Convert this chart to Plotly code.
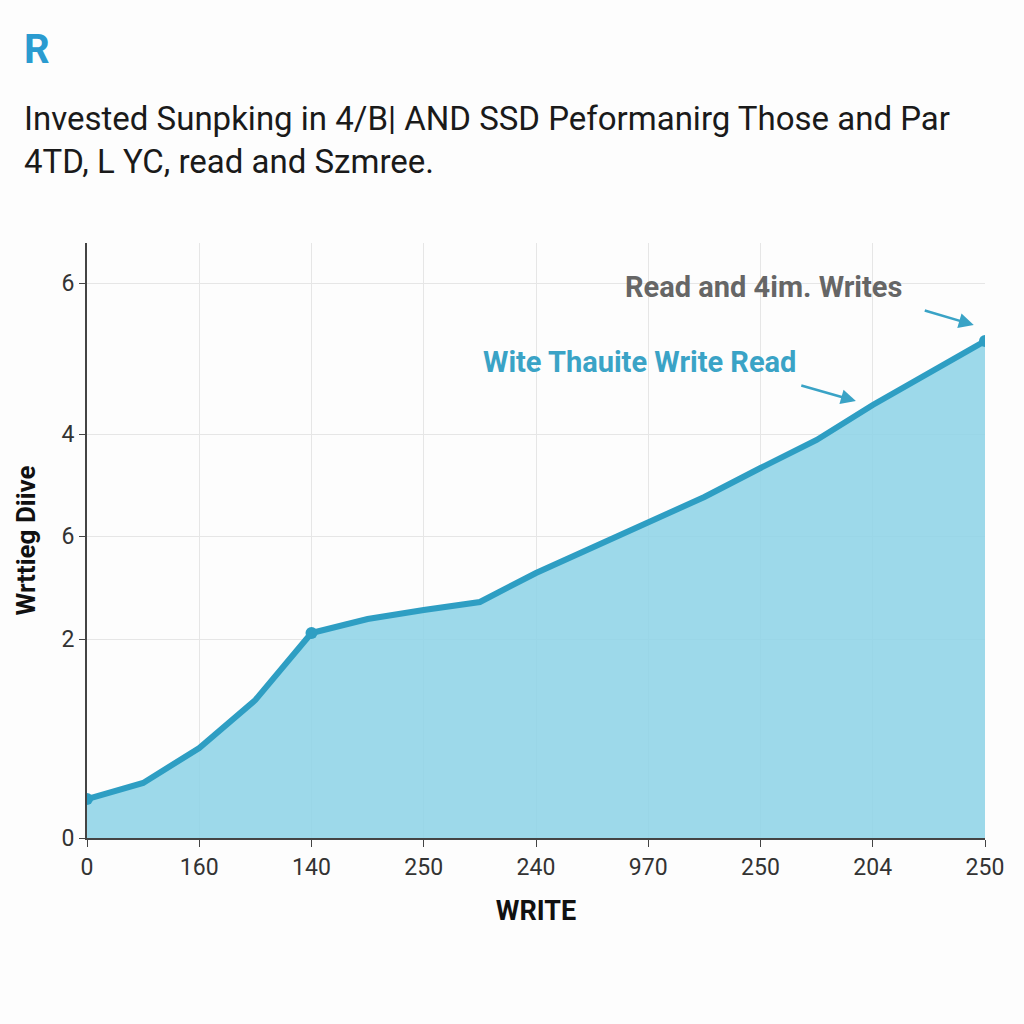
import plotly.graph_objects as go

# Data
x_vals = [0, 0.5, 1, 1.5, 2, 2.5, 3, 3.5, 4, 4.5, 5, 5.5, 6, 6.5, 7, 7.5, 8]
y_vals = [0.39, 0.55, 0.90, 1.38, 2.05, 2.19, 2.28, 2.36, 2.65, 2.90, 3.16, 3.41, 3.70, 3.98, 4.33, 4.65, 4.97]
marker_x = [0, 2, 8]
marker_y = [0.39, 2.05, 4.97]
x_tickvals = [0, 1, 2, 3, 4, 5, 6, 7, 8]
x_ticktext = ["0", "160", "140", "250", "240", "970", "250", "204", "250"]
y_tickvals = [0, 1.99, 3.02, 4.04, 5.55]
y_ticktext = ["0", "2", "6", "4", "6"]

LINE = "#2E9EC3"
FILL = "rgba(140,210,230,0.85)"

fig = go.Figure()
fig.add_trace(go.Scatter(x=x_vals, y=y_vals, mode="lines", fill="tozeroy",
                         fillcolor=FILL, line=dict(color=LINE, width=6),
                         hoverinfo="skip", showlegend=False))
fig.add_trace(go.Scatter(x=marker_x, y=marker_y, mode="markers",
                         marker=dict(color=LINE, size=12),
                         hoverinfo="skip", showlegend=False))

fig.update_layout(
    width=1024, height=1024,
    margin=dict(l=87, r=39, t=243, b=186),
    paper_bgcolor="#FDFDFD", plot_bgcolor="#FDFDFD",
    font=dict(family="Roboto, Liberation Sans, sans-serif", color="#222"),
    showlegend=False,
)
fig.update_xaxes(range=[0, 8], tickvals=x_tickvals, ticktext=x_ticktext,
                 showgrid=True, gridcolor="#E6E6E6", gridwidth=1,
                 showline=True, linecolor="#444", linewidth=2,
                 ticks="outside", ticklen=7, tickcolor="#444",
                 tickfont=dict(size=23, color="#333"),
                 title=dict(text="<b>WRITE</b>", font=dict(size=27, color="#111"), standoff=22),
                 zeroline=False)
fig.update_yaxes(range=[0, 5.95], tickvals=y_tickvals, ticktext=y_ticktext,
                 showgrid=True, gridcolor="#E6E6E6", gridwidth=1,
                 showline=True, linecolor="#444", linewidth=2,
                 ticks="outside", ticklen=6, tickcolor="#444",
                 tickfont=dict(size=23, color="#333"),
                 title=dict(text="<b>Wrttieg Diive</b>", font=dict(size=26, color="#111"), standoff=18),
                 zeroline=False)

# Title lines
fig.add_annotation(xref="paper", yref="paper", x=-0.0724, y=1.173, xanchor="left", yanchor="middle",
                   text="Invested Sunpking in 4/B| AND SSD Peformanirg Those and Par<br>4TD, L YC, read and Szmree.",
                   showarrow=False, align="left",
                   font=dict(size=33, color="#1A1A1A", family="Roboto, sans-serif"))
# Logo
fig.add_annotation(xref="paper", yref="paper", x=-0.0724, y=1.326, xanchor="left", yanchor="middle",
                   text="<b>R</b>", showarrow=False,
                   font=dict(size=40, color="#2A9BD0", family="Roboto, sans-serif"))
# Annotations
fig.add_annotation(x=6.03, y=5.51, text="<b>Read and 4im. Writes</b>", showarrow=False,
                   font=dict(size=29, color="#666666"))
fig.add_annotation(x=4.92, y=4.76, text="<b>Wite Thauite Write Read</b>", showarrow=False,
                   font=dict(size=29, color="#3AA3C6"))
fig.add_annotation(x=7.9, y=5.13, ax=7.45, ay=5.28, axref="x", ayref="y",
                   text="", showarrow=True, arrowhead=2, arrowsize=1.2, arrowwidth=2.5, arrowcolor="#3AA3C6")
fig.add_annotation(x=6.85, y=4.37, ax=6.35, ay=4.53, axref="x", ayref="y",
                   text="", showarrow=True, arrowhead=2, arrowsize=1.2, arrowwidth=2.5, arrowcolor="#3AA3C6")

fig.write_html("out.html")
